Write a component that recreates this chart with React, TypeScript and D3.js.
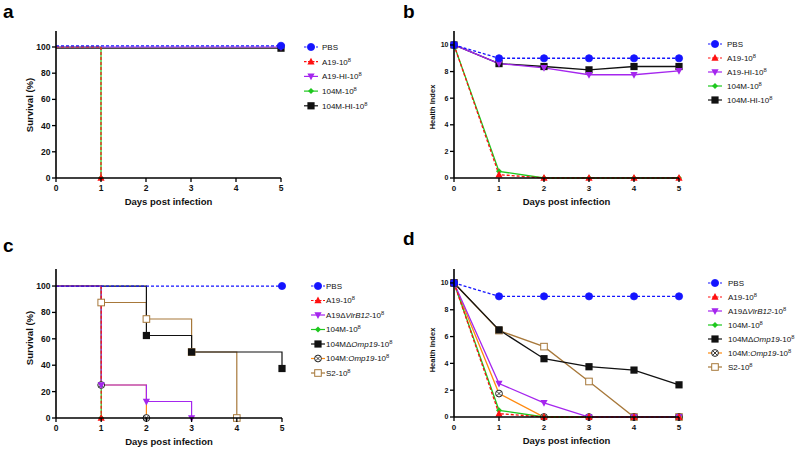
import React from 'react';
import * as d3 from 'd3';

// ---------- data ----------
const xTicks = [0, 1, 2, 3, 4, 5];
const days = [0, 1, 2, 3, 4, 5];
const survTicks = [0, 20, 40, 60, 80, 100];
const hiTicks = [0, 2, 4, 6, 8, 10];

// panel a: survival (%) steps as [day, value]
const aPBS = [[0, 100], [5, 100]];
const aA19 = [[0, 100], [1, 0]];
const aA19HI = [[0, 100], [5, 100]];
const a104M = [[0, 100], [1, 0]];
const a104MHI = [[0, 100], [5, 100]];

// panel b: health index per day
const bPBS = [10, 9, 9, 9, 9, 9];
const bA19 = [10, 0.25, 0, 0, 0, 0];
const bA19HI = [10, 8.6, 8.28, 7.76, 7.76, 8.05];
const b104M = [10, 0.5, 0, 0, 0, 0];
const b104MHI = [10, 8.6, 8.38, 8.13, 8.38, 8.38];

// panel c: survival (%)
const cPBS = [[0, 100], [5, 100]];
const cA19 = [[0, 100], [1, 0]];
const cVirB12 = [[0, 100], [1, 25], [2, 12.5], [3, 0]];
const c104M = [[0, 100], [1, 0]];
const cDeltaOmp19 = [[0, 100], [2, 62.5], [3, 50], [5, 37.5]];
const cOmp19 = [[0, 100], [1, 25], [2, 0]];
const cS2 = [[0, 100], [1, 87.5], [2, 75], [3, 50], [4, 0]];

// panel d: health index per day
const dPBS = [10, 9, 9, 9, 9, 9];
const dA19 = [10, 0.25, 0, 0, 0, 0];
const dVirB12 = [10, 2.5, 1.05, 0, 0, 0];
const d104M = [10, 0.5, 0, 0, 0, 0];
const dDeltaOmp19 = [10, 6.5, 4.35, 3.75, 3.5, 2.4];
const dOmp19 = [10, 1.75, 0, 0, 0, 0];
const dS2 = [10, 6.45, 5.25, 2.65, 0, 0];

const labelsAB = ['PBS', 'A19-10^8', 'A19-HI-10^8', '104M-10^8', '104M-HI-10^8'];
const labelsCD = ['PBS', 'A19-10^8', 'A19Δ*VirB12*-10^8', '104M-10^8', '104MΔ*Omp19*-10^8', '104M:*Omp19*-10^8', 'S2-10^8'];

// ---------- styles ----------
const BLUE = '#1414ff';
const RED = '#ff1010';
const PURPLE = '#a526ee';
const GREEN = '#1ec81e';
const BLACK = '#111111';
const ORANGE = '#ff8a10';
const BROWN = '#a7783a';

const stPBS = { color: BLUE, dashed: true, marker: 'circle', fill: BLUE, mstroke: BLUE };
const stA19 = { color: RED, dashed: true, marker: 'triangle', fill: RED, mstroke: RED };
const stA19HI = { color: PURPLE, dashed: false, marker: 'triangleDown', fill: PURPLE, mstroke: PURPLE };
const st104M = { color: GREEN, dashed: false, marker: 'diamond', fill: GREEN, mstroke: GREEN };
const st104MHI = { color: BLACK, dashed: false, marker: 'square', fill: BLACK, mstroke: BLACK };
const stOmp19 = { color: ORANGE, dashed: false, marker: 'circleX', fill: 'white', mstroke: '#222' };
const stS2 = { color: BROWN, dashed: false, marker: 'squareOpen', fill: 'white', mstroke: BROWN };

const FONT = 'Liberation Sans, Arial, sans-serif';

function Marker({ kind, x, y, fill, stroke }: any) {
  const s = 3.6;
  switch (kind) {
    case 'circle':
      return <circle cx={x} cy={y} r={s} fill={fill} stroke={stroke} strokeWidth={0.8} />;
    case 'triangle':
      return <path d={`M${x},${y - s - 0.3}L${x + s},${y + s - 0.8}L${x - s},${y + s - 0.8}Z`} fill={fill} />;
    case 'triangleDown':
      return <path d={`M${x},${y + s + 0.3}L${x + s},${y - s + 0.8}L${x - s},${y - s + 0.8}Z`} fill={fill} />;
    case 'diamond':
      return <path d={`M${x},${y - 3}L${x + 3},${y}L${x},${y + 3}L${x - 3},${y}Z`} fill={fill} />;
    case 'square':
      return <rect x={x - s} y={y - s} width={2 * s} height={2 * s} fill={fill} />;
    case 'squareOpen':
      return <rect x={x - 3.3} y={y - 3.3} width={6.6} height={6.6} fill={fill} stroke={stroke} strokeWidth={1} />;
    case 'circleX': {
      const k = 2.2;
      return (
        <g>
          <circle cx={x} cy={y} r={3.4} fill={fill} stroke={stroke} strokeWidth={1} />
          <path d={`M${x - k},${y - k}L${x + k},${y + k}M${x + k},${y - k}L${x - k},${y + k}`} stroke={stroke} strokeWidth={0.9} />
        </g>
      );
    }
  }
  return null;
}

function Label({ text, x, y, size }: any) {
  const [main, sup] = text.split('^');
  const parts = main.split('*');
  return (
    <text x={x} y={y} dy="0.35em" fontSize={size} fontFamily={FONT} fill="#111">
      {parts.map((p: string, i: number) => (
        <tspan key={i} fontStyle={i % 2 === 1 ? 'italic' : 'normal'}>{p}</tspan>
      ))}
      {sup !== undefined && <tspan dy={-3} fontSize={size * 0.72}>{sup}</tspan>}
    </text>
  );
}

function Panel(props: any) {
  const { letter, lx0, ly0, x0, x1, yB, yT, yMax, ticks, yLabel, yTickSize, yLabelSize, yLabelX, yLabelY,
    xTickSize, series, kind, legend, legX, legTX, legY, legStep } = props;
  const x = d3.scaleLinear().domain([0, 5]).range([x0, x1]);
  const y = d3.scaleLinear().domain([0, yMax]).range([yB, yT]);
  const stepLine = d3.line<number[]>().x(d => x(d[0])).y(d => y(d[1])).curve(d3.curveStepAfter);
  const plainLine = d3.line<number>().x((_d, i) => x(days[i])).y(d => y(d));
  const order = series.map((_s: any, i: number) => i).reverse();
  return (
    <g>
      <text x={lx0} y={ly0} fontSize={19} fontWeight="bold" fontFamily={FONT} fill="#000">{letter}</text>
      {/* data */}
      {order.map((i: number) => {
        const s = series[i];
        const st = s.style;
        const d = kind === 'step' ? stepLine(s.data) : plainLine(s.data);
        return (
          <path key={'l' + i} d={d || ''} fill="none" stroke={st.color} strokeWidth={kind === 'step' ? 1.2 : 1.3}
            strokeDasharray={st.dashed ? '3,2' : undefined} transform={s.nudge ? `translate(0,${s.nudge})` : undefined} />
        );
      })}
      {order.map((i: number) => {
        const s = series[i];
        const st = s.style;
        const pts = kind === 'step'
          ? s.data.slice(1).map((p: number[]) => [x(p[0]), y(p[1])])
          : s.data.map((v: number, j: number) => [x(days[j]), y(v)]);
        return (
          <g key={'m' + i} transform={s.nudge ? `translate(0,${s.nudge})` : undefined}>
            {pts.map((p: number[], j: number) => (
              <Marker key={j} kind={st.marker} x={p[0]} y={p[1]} fill={st.fill} stroke={st.mstroke} />
            ))}
          </g>
        );
      })}
      {/* axes */}
      <line x1={x0} x2={x0} y1={yB} y2={yT} stroke="#000" strokeWidth={1.6} />
      <line x1={x0} x2={x1} y1={yB} y2={yB} stroke="#000" strokeWidth={1.6} />
      {ticks.map((t: number) => (
        <g key={'yt' + t}>
          <line x1={x0 - 4} x2={x0} y1={y(t)} y2={y(t)} stroke="#000" strokeWidth={1.3} />
          <text x={x0 - 5.5} y={y(t)} dy="0.35em" textAnchor="end" fontSize={yTickSize} fontWeight="bold" fontFamily={FONT} fill="#111">{t}</text>
        </g>
      ))}
      {xTicks.map((t: number) => (
        <g key={'xt' + t}>
          <line x1={x(t)} x2={x(t)} y1={yB} y2={yB + 4} stroke="#000" strokeWidth={1.3} />
          <text x={x(t)} y={yB + 12.5} textAnchor="middle" fontSize={xTickSize} fontWeight="bold" fontFamily={FONT} fill="#111">{t}</text>
        </g>
      ))}
      <text x={(x0 + x1) / 2} y={yB + 27} textAnchor="middle" fontSize={9.5} fontWeight="bold" fontFamily={FONT} fill="#111">Days post infection</text>
      <text transform={`translate(${yLabelX},${yLabelY}) rotate(-90)`} textAnchor="middle" fontSize={yLabelSize} fontWeight="bold" fontFamily={FONT} fill="#111">{yLabel}</text>
      {/* legend */}
      {legend.map((lab: string, i: number) => {
        const st = series[i].style;
        const ly = legY + i * legStep;
        return (
          <g key={'lg' + i}>
            <line x1={legX - 7} x2={legX + 7} y1={ly} y2={ly} stroke={st.color} strokeWidth={1.2} strokeDasharray={st.dashed ? '2.5,1.5' : undefined} />
            <Marker kind={st.marker} x={legX} y={ly} fill={st.fill} stroke={st.mstroke} />
            <Label text={lab} x={legTX} y={ly} size={8} />
          </g>
        );
      })}
    </g>
  );
}

export default function App() {
  const seriesA = [
    { data: aPBS, style: stPBS, nudge: -1.2 },
    { data: aA19, style: stA19 },
    { data: aA19HI, style: stA19HI },
    { data: a104M, style: st104M },
    { data: a104MHI, style: st104MHI, nudge: 1.2 },
  ];
  const seriesB = [
    { data: bPBS, style: stPBS },
    { data: bA19, style: stA19 },
    { data: bA19HI, style: stA19HI },
    { data: b104M, style: st104M },
    { data: b104MHI, style: st104MHI },
  ];
  const seriesC = [
    { data: cPBS, style: stPBS },
    { data: cA19, style: stA19 },
    { data: cVirB12, style: stA19HI },
    { data: c104M, style: st104M },
    { data: cDeltaOmp19, style: st104MHI },
    { data: cOmp19, style: stOmp19 },
    { data: cS2, style: stS2 },
  ];
  const seriesD = [
    { data: dPBS, style: stPBS },
    { data: dA19, style: stA19 },
    { data: dVirB12, style: stA19HI },
    { data: d104M, style: st104M },
    { data: dDeltaOmp19, style: st104MHI },
    { data: dOmp19, style: stOmp19 },
    { data: dS2, style: stS2 },
  ];
  return (
    <svg width={800} height={450} style={{ position: 'absolute', left: 0, top: 0, background: '#fff' }}>
      <rect width={800} height={450} fill="#fff" />
      <Panel letter="a" lx0={3} ly0={18} x0={56} x1={281} yB={178} yT={31} yMax={112.2} ticks={survTicks}
        yLabel="Survival (%)" yTickSize={8.5} yLabelSize={9.5} yLabelX={33} yLabelY={105} xTickSize={8.5}
        series={seriesA} kind="step" legend={labelsAB} legX={311} legTX={322} legY={47} legStep={14.7} />
      <Panel letter="b" lx0={403} ly0={18} x0={454} x1={679} yB={178} yT={31} yMax={11.05} ticks={hiTicks}
        yLabel="Health Index" yTickSize={7} yLabelSize={7.5} yLabelX={435} yLabelY={107} xTickSize={8}
        series={seriesB} kind="line" legend={labelsAB} legX={715} legTX={727} legY={44} legStep={14} />
      <Panel letter="c" lx0={3} ly0={252} x0={56} x1={282} yB={418} yT={269} yMax={112.9} ticks={survTicks}
        yLabel="Survival (%)" yTickSize={8.5} yLabelSize={9.5} yLabelX={33} yLabelY={338} xTickSize={8.5}
        series={seriesC} kind="step" legend={labelsCD} legX={318} legTX={326} legY={286} legStep={14.5} />
      <Panel letter="d" lx0={403} ly0={245} x0={454} x1={679} yB={417} yT={269} yMax={11.04} ticks={hiTicks}
        yLabel="Health Index" yTickSize={7} yLabelSize={7.5} yLabelX={435} yLabelY={350} xTickSize={8}
        series={seriesD} kind="line" legend={labelsCD} legX={715} legTX={728} legY={283} legStep={14} />
    </svg>
  );
}
